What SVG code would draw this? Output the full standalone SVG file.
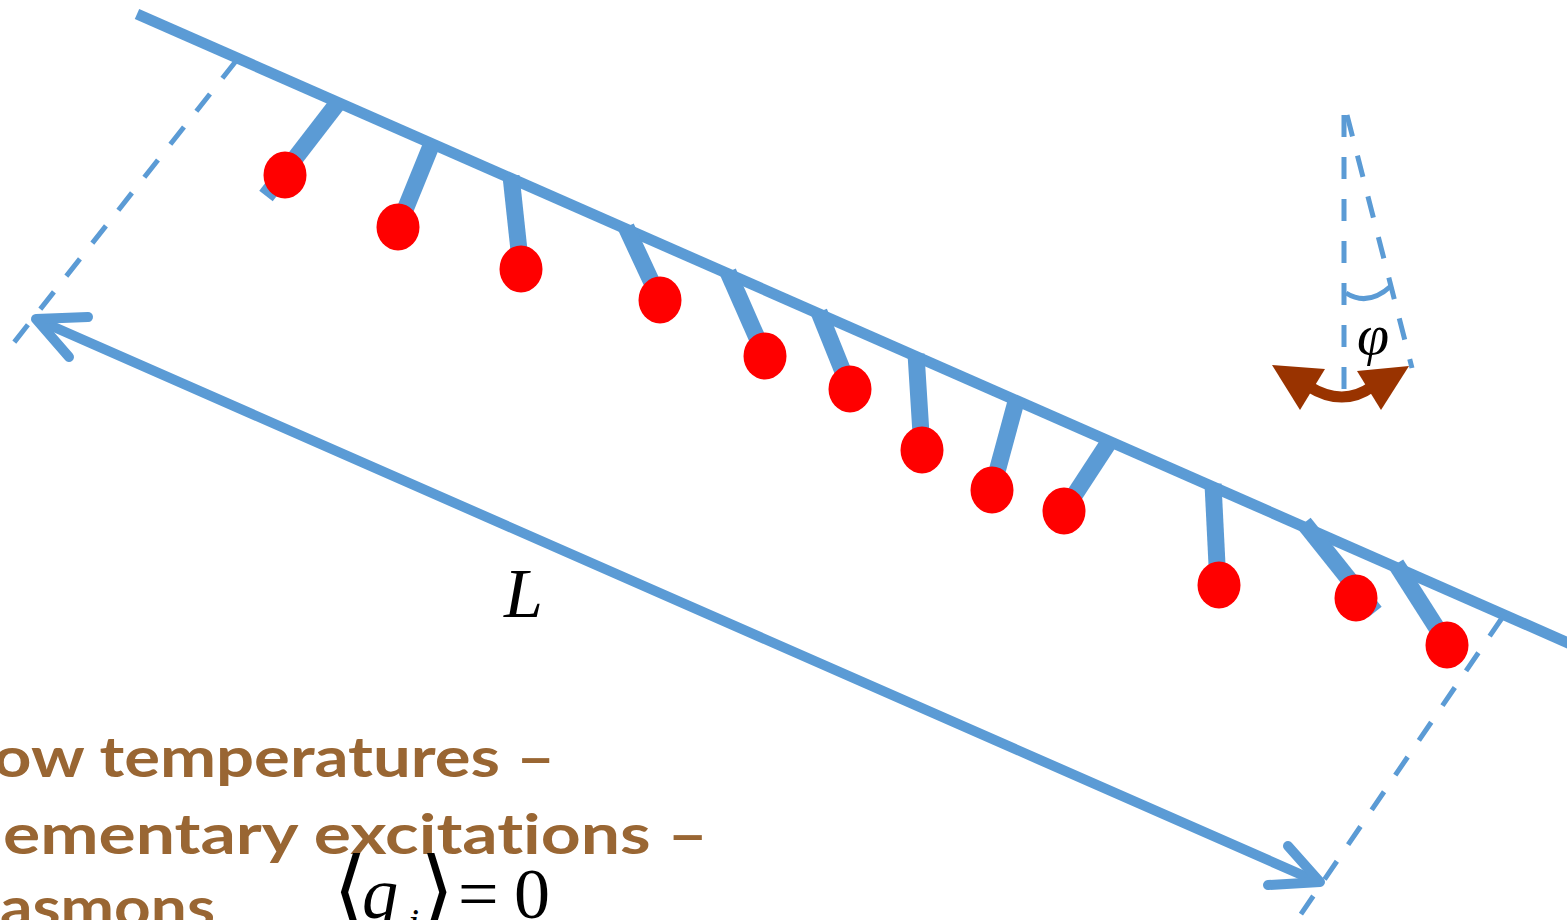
<svg xmlns="http://www.w3.org/2000/svg" width="1567" height="920" viewBox="0 0 1567 920">
<style>
.blue{stroke:#5B9BD5;fill:none}
.rail{stroke-width:11}
.stick{stroke-width:17;stroke-linecap:butt}
.dash{stroke-width:5;stroke-dasharray:22 20}
.ball{fill:#FF0000}
.arr{stroke-width:10;stroke-linecap:round;stroke-linejoin:round}
.note{font-family:"Comic Sans MS","Lato","Noto Sans",sans-serif;font-weight:bold;font-size:56px;fill:#996633;font-variant-ligatures:none}
.math{font-family:"Liberation Serif","Times New Roman",serif;fill:#000}
</style>
<g id="rail">
<line class="blue rail" x1="137" y1="14" x2="1575" y2="646"/>
</g>
<g id="guides">
<line class="blue dash" x1="236" y1="61" x2="12" y2="345"/>
<line class="blue dash" x1="1502" y1="618" x2="1297" y2="920"/>
</g>
<g id="pendulums">
<g id="p1"><line class="blue stick" x1="340" y1="100" x2="266" y2="196"/><ellipse class="ball" cx="285" cy="175" rx="21.5" ry="23.5"/></g>
<g id="p2"><line class="blue stick" x1="433" y1="141" x2="398" y2="227"/><ellipse class="ball" cx="398" cy="227" rx="21.5" ry="23.5"/></g>
<g id="p3"><line class="blue stick" x1="511" y1="176" x2="521" y2="269"/><ellipse class="ball" cx="521" cy="269" rx="21.5" ry="23.5"/></g>
<g id="p4"><line class="blue stick" x1="626" y1="227" x2="660" y2="300"/><ellipse class="ball" cx="660" cy="300" rx="21.5" ry="23.5"/></g>
<g id="p5"><line class="blue stick" x1="728" y1="272" x2="765" y2="356"/><ellipse class="ball" cx="765" cy="356" rx="21.5" ry="23.5"/></g>
<g id="p6"><line class="blue stick" x1="819" y1="312" x2="850" y2="389"/><ellipse class="ball" cx="850" cy="389" rx="21.5" ry="23.5"/></g>
<g id="p7"><line class="blue stick" x1="916" y1="354" x2="922" y2="450"/><ellipse class="ball" cx="922" cy="450" rx="21.5" ry="23.5"/></g>
<g id="p8"><line class="blue stick" x1="1017" y1="398" x2="992" y2="490"/><ellipse class="ball" cx="992" cy="490" rx="21.5" ry="23.5"/></g>
<g id="p9"><line class="blue stick" x1="1111" y1="439" x2="1064" y2="511"/><ellipse class="ball" cx="1064" cy="511" rx="21.5" ry="23.5"/></g>
<g id="p10"><line class="blue stick" x1="1213" y1="484" x2="1219" y2="605"/><ellipse class="ball" cx="1219" cy="585" rx="21.5" ry="23.5"/></g>
<g id="p11"><line class="blue stick" x1="1304" y1="523" x2="1375" y2="612"/><ellipse class="ball" cx="1356" cy="598" rx="21.5" ry="23.5"/></g>
<g id="p12"><line class="blue stick" x1="1396" y1="564" x2="1447" y2="644"/><ellipse class="ball" cx="1447" cy="645" rx="21.5" ry="23.5"/></g>
</g>
<g id="connectors">
<g id="length-arrow">
<line class="blue arr" x1="38" y1="320" x2="1318" y2="882"/>
<polyline class="blue arr" points="88,317 36,319 69,357"/>
<polyline class="blue arr" points="1268,885 1320,882 1288,846"/>
</g>
</g>
<g id="angle">
<line class="blue dash" x1="1344" y1="115" x2="1344" y2="392"/>
<line class="blue dash" x1="1347" y1="115" x2="1412" y2="368"/>
<path class="blue" stroke-width="5" d="M1346,293 Q1368,307 1391,286"/>
<text class="math" x="1357" y="354" font-size="58" font-style="italic">φ</text>
<path d="M1308,386 Q1343,408 1373,386" fill="none" stroke="#993300" stroke-width="11"/>
<polygon fill="#993300" points="1272,365 1325,369 1300,410"/>
<polygon fill="#993300" points="1409,366 1357,371 1381,410"/>
</g>
<g id="label-L">
<text class="math" x="504" y="617" font-size="70" font-style="italic">L</text>
</g>
<g id="notes">
<text class="note" x="-7" y="777" textLength="562" lengthAdjust="spacingAndGlyphs">ow temperatures –</text>
<text class="note" x="3" y="854" textLength="705" lengthAdjust="spacingAndGlyphs">ementary excitations –</text>
<text class="note" x="0" y="927" textLength="215" lengthAdjust="spacingAndGlyphs">asmons</text>
</g>
<g id="formula">
<text x="333" y="920" font-family="DejaVu Serif, DejaVu Sans, serif" font-size="88" font-weight="lighter">⟨</text>
<text class="math" x="362" y="918" font-size="72" font-style="italic">q</text>
<text class="math" x="408" y="936" font-size="40" font-style="italic">i</text>
<text x="420" y="920" font-family="DejaVu Serif, DejaVu Sans, serif" font-size="88" font-weight="lighter">⟩</text>
<text class="math" x="458" y="918" font-size="72">=</text>
<text class="math" x="514" y="918" font-size="72">0</text>
</g>
</svg>
